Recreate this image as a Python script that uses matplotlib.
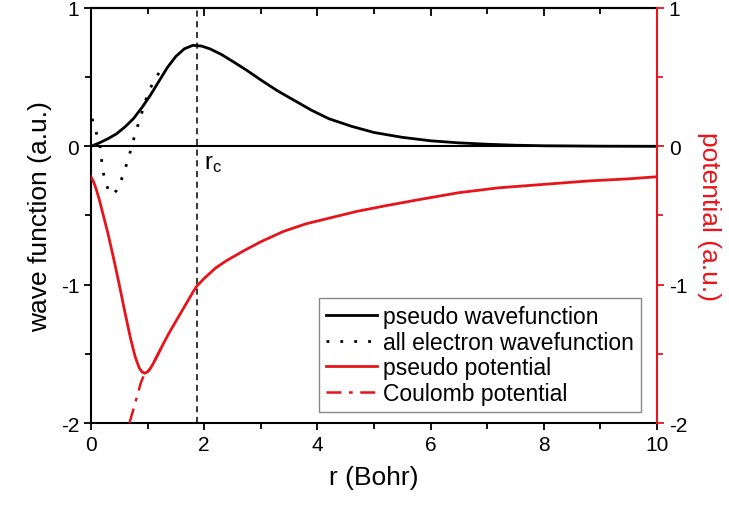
import matplotlib
matplotlib.use("Agg")
import matplotlib.pyplot as plt
from matplotlib.ticker import MultipleLocator

plt.rcParams['font.family'] = ['Liberation Sans', 'DejaVu Sans']
plt.rcParams['mathtext.fontset'] = 'custom'
plt.rcParams['mathtext.rm'] = 'Liberation Sans'
plt.rcParams['mathtext.it'] = 'Liberation Sans'
plt.rcParams['axes.unicode_minus'] = False

# pseudo wavefunction
ps_r = [0.0, 0.15, 0.3, 0.45, 0.6, 0.75, 0.9, 1.05, 1.2, 1.35, 1.5, 1.65, 1.8, 1.95, 2.1, 2.3, 2.5,
        2.75, 3.0, 3.3, 3.6, 3.9, 4.2, 4.6, 5.0, 5.5, 6.0, 6.5, 7.0, 7.5, 8.0, 9.0, 10.0]
ps_v = [0.0, 0.025, 0.055, 0.09, 0.14, 0.2, 0.28, 0.37, 0.47, 0.57, 0.65, 0.705, 0.73, 0.725, 0.705,
        0.665, 0.615, 0.55, 0.48, 0.40, 0.33, 0.26, 0.2, 0.145, 0.1, 0.065, 0.04, 0.025, 0.015, 0.008,
        0.004, 0.001, 0.0]

# all electron wavefunction
ae_r = [0.02, 0.04, 0.1, 0.16, 0.21, 0.26, 0.31, 0.37, 0.45, 0.52, 0.59, 0.66, 0.72, 0.78, 0.85,
        0.92, 0.98, 1.06, 1.15, 1.27]
ae_v = [0.2, 0.17, 0.09, 0.0, -0.18, -0.26, -0.32, -0.35, -0.32, -0.26, -0.18, -0.09, 0.0, 0.09, 0.18,
        0.27, 0.35, 0.43, 0.50, 0.57]

# pseudo potential
pp_r = [0.0, 0.05, 0.1, 0.15, 0.2, 0.3, 0.4, 0.5, 0.6, 0.7, 0.78, 0.85, 0.9, 0.95, 1.0, 1.05, 1.1,
        1.2, 1.3, 1.4, 1.5, 1.6, 1.7, 1.8, 1.87, 2.0, 2.2, 2.4, 2.7, 3.0, 3.4, 3.8, 4.2, 4.7, 5.2,
        5.8, 6.5, 7.2, 8.0, 8.8, 9.5, 10.0]
pp_v = [-0.22, -0.26, -0.32, -0.39, -0.47, -0.63, -0.81, -1.00, -1.20, -1.39, -1.52, -1.60, -1.63,
        -1.64, -1.63, -1.605, -1.57, -1.49, -1.41, -1.335, -1.265, -1.195, -1.125, -1.055, -1.01,
        -0.955, -0.88, -0.825, -0.755, -0.69, -0.615, -0.56, -0.52, -0.47, -0.43, -0.385, -0.335,
        -0.30, -0.275, -0.25, -0.235, -0.22]

# Coulomb potential
cp_r = [0.68, 0.75, 0.82, 0.88, 0.95, 1.0, 1.05, 1.1, 1.2, 1.3]
cp_v = [-2.0, -1.9, -1.8, -1.71, -1.64, -1.63, -1.605, -1.57, -1.49, -1.41]

r_c = 1.87

fig = plt.figure(figsize=(7.29, 5.10), dpi=100)
ax = fig.add_axes([0.1248, 0.1686, 0.7764, 0.8138])

ax.axhline(0, color='black', lw=1.5, zorder=1)
ax.axvline(r_c, color='black', lw=1.1, linestyle=(0, (4, 3)), zorder=1)

ax.plot(ps_r, ps_v, color='black', lw=2, label='pseudo wavefunction', zorder=4)
ax.plot(ae_r, ae_v, color='black', lw=2, linestyle=(0, (1, 4)), label='all electron wavefunction', zorder=3)
ax.plot(cp_r, cp_v, color='#e8141b', lw=1.8, linestyle=(0, (6, 3, 1.5, 3)), label='Coulomb potential', zorder=3)
ax.plot(pp_r, pp_v, color='#e8141b', lw=2, label='pseudo potential', zorder=4)

ax.text(2.0, -0.04, r'r$_{\mathrm{c}}$', fontsize=17, va='top', ha='left')

ax.set_xlim(0, 10)
ax.set_ylim(-2, 1)
ax.xaxis.set_major_locator(MultipleLocator(2))
ax.xaxis.set_minor_locator(MultipleLocator(1))
ax.yaxis.set_major_locator(MultipleLocator(1))
ax.yaxis.set_minor_locator(MultipleLocator(0.5))
ax.tick_params(which='both', direction='out', width=1.3, labelsize=15, right=False)
ax.tick_params(which='major', length=5)
ax.tick_params(which='minor', length=4)
for s in ax.spines.values():
    s.set_linewidth(1.5)
ax.spines['right'].set_visible(False)

ax.set_xlabel('r (Bohr)', fontsize=19, labelpad=8)
ax.set_ylabel('wave function (a.u.)', fontsize=19, labelpad=6)

# top axis with inward ticks, no labels
top = ax.secondary_xaxis('top')
top.xaxis.set_major_locator(MultipleLocator(2))
top.xaxis.set_minor_locator(MultipleLocator(1))
top.tick_params(which='both', direction='in', width=1.3, labeltop=False)
top.tick_params(which='major', length=6)
top.tick_params(which='minor', length=4)
top.spines['top'].set_linewidth(1.5)

# right potential axis
ax2 = ax.twinx()
ax2.set_ylim(-2, 1)
ax2.yaxis.set_major_locator(MultipleLocator(1))
ax2.yaxis.set_minor_locator(MultipleLocator(0.5))
ax2.tick_params(which='both', direction='out', width=1.3, color='#e8141b', labelsize=15, labelcolor='black')
ax2.tick_params(which='major', length=5)
ax2.tick_params(which='minor', length=4)
for name, s in ax2.spines.items():
    s.set_visible(name == 'right')
ax2.spines['right'].set_color('#e8141b')
ax2.spines['right'].set_linewidth(1.5)
ax2.set_ylabel('potential (a.u.)', fontsize=19, color='#e8141b', rotation=270, labelpad=24)

handles, labels = ax.get_legend_handles_labels()
order = [0, 1, 3, 2]
leg = ax.legend([handles[i] for i in order], [labels[i] for i in order],
                loc='lower right', bbox_to_anchor=(0.972, 0.0265), borderaxespad=0,
                fontsize=16.5, fancybox=False, edgecolor='#888888', framealpha=1,
                handlelength=2.2, handletextpad=0.3, labelspacing=0.12, borderpad=0.3)
leg.get_frame().set_linewidth(1.0)
leg.set_zorder(10)

fig.savefig('out.png', dpi=100)
